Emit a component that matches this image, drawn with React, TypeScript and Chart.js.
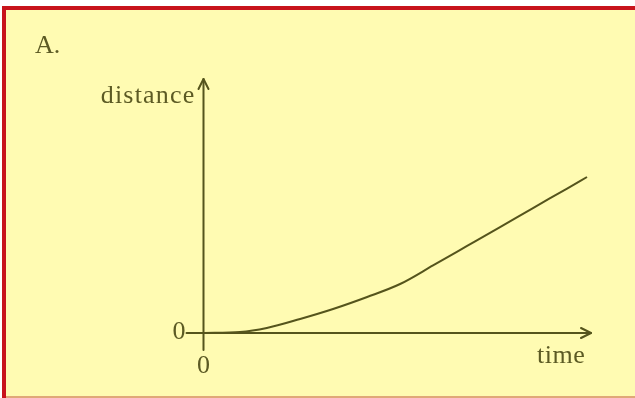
import React, { useEffect, useRef } from "react";
import { Chart, registerables } from "chart.js";

Chart.register(...registerables);

const times = [0, 0.94, 1.64, 2.51, 3.37, 4.26, 5.12, 5.98, 6.87, 7.73, 8.59, 9.48, 10];
const distances = [0, 0.06, 0.32, 0.9, 1.54, 2.31, 3.14, 4.33, 5.58, 6.79, 8.01, 9.26, 10];
const xAxisTitle = "time";
const yAxisTitle = "distance";
const originLabel = "0";
const panelTitle = "A.";

const INK = "#55541c";
const TEXT = "#5c5a24";
const BG = "#fffbb2";
const FONT = "26px 'Liberation Serif', 'DejaVu Serif', serif";

const decor = {
  id: "decor",
  beforeDraw(chart: any) {
    const ctx = chart.ctx;
    const W = chart.width;
    const H = chart.height;
    ctx.save();
    ctx.fillStyle = "#ffffff";
    ctx.fillRect(0, 0, W, H);
    ctx.fillStyle = BG;
    ctx.fillRect(6, 10, W - 6, H - 12);
    ctx.fillStyle = "#c8141c";
    ctx.fillRect(2, 6, 4, H - 6);
    ctx.fillRect(2, 6, W - 2, 4);
    ctx.fillStyle = "#e0a878";
    ctx.fillRect(6, H - 2, W - 6, 2);
    ctx.restore();
  },
  beforeDatasetsDraw(chart: any) {
    const ctx = chart.ctx;
    const xs = chart.scales.x;
    const ys = chart.scales.y;
    const x0 = Math.round(xs.getPixelForValue(0)) - 0.5;
    const y0 = Math.round(ys.getPixelForValue(0));
    ctx.save();
    ctx.strokeStyle = INK;
    ctx.lineWidth = 2;
    ctx.lineCap = "round";
    ctx.lineJoin = "round";
    // x axis
    const xStart = x0 - 17;
    const xEnd = xs.right + 4;
    ctx.beginPath();
    ctx.moveTo(xStart, y0);
    ctx.lineTo(xEnd, y0);
    ctx.stroke();
    ctx.beginPath();
    ctx.moveTo(xEnd - 10, y0 - 5);
    ctx.lineTo(xEnd, y0);
    ctx.lineTo(xEnd - 10, y0 + 5);
    ctx.stroke();
    // y axis
    const yStart = y0 + 17;
    const yEnd = 79;
    ctx.beginPath();
    ctx.moveTo(x0, yStart);
    ctx.lineTo(x0, yEnd);
    ctx.stroke();
    ctx.beginPath();
    ctx.moveTo(x0 - 5, yEnd + 10);
    ctx.lineTo(x0, yEnd);
    ctx.lineTo(x0 + 5, yEnd + 10);
    ctx.stroke();

    ctx.fillStyle = TEXT;
    ctx.font = FONT;
    ctx.textBaseline = "alphabetic";
    ctx.textAlign = "right";
    ctx.fillText(originLabel, x0 - 18, y0 + 6);
    ctx.letterSpacing = "1.2px";
    ctx.fillText(yAxisTitle, x0 - 8, 103);
    ctx.letterSpacing = "0.5px";
    ctx.textAlign = "left";
    ctx.fillText(xAxisTitle, 537, y0 + 30);
    ctx.letterSpacing = "0px";
    ctx.fillText(panelTitle, 35, 53);
    ctx.textAlign = "center";
    ctx.fillText(originLabel, x0, y0 + 40);
    ctx.restore();
  },
};

export default function App() {
  const ref = useRef<HTMLCanvasElement>(null);
  useEffect(() => {
    document.body.style.margin = "0";
    const chart = new Chart(ref.current!, {
      type: "line",
      data: {
        datasets: [
          {
            data: times.map((t, i) => ({ x: t, y: distances[i] })),
            borderColor: INK,
            borderWidth: 2,
            pointRadius: 0,
            cubicInterpolationMode: "monotone",
            clip: false as any,
          },
        ],
      },
      options: {
        animation: false,
        responsive: false,
        events: [],
        layout: { padding: { left: 204, right: 48, top: 177, bottom: 65 } },
        scales: {
          x: { type: "linear", display: false, min: 0, max: 10 },
          y: { type: "linear", display: false, min: 0, max: 10 },
        },
        plugins: { legend: { display: false }, tooltip: { enabled: false } },
      },
      plugins: [decor],
    });
    return () => chart.destroy();
  }, []);
  return (
    <div style={{ width: 635, height: 398 }}>
      <canvas ref={ref} width={635} height={398} style={{ display: "block" }} />
    </div>
  );
}
